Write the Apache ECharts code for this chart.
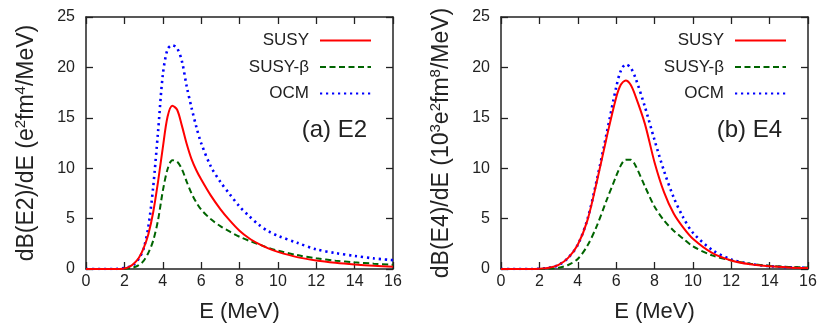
<!DOCTYPE html>
<html>
<head>
<meta charset="utf-8">
<script src="https://cdn.jsdelivr.net/npm/echarts@6/dist/echarts.min.js"></script>
<style>
html,body{margin:0;padding:0;background:#fff;}
#c{width:830px;height:323px;}
</style>
</head>
<body>
<div id="c"></div>
<script>
// ---- data (panel a: E2) ----
var E_a = [0,0.5,1,1.5,2,2.25,2.5,2.75,3,3.25,3.5,3.75,4,4.25,4.5,4.75,5,5.25,5.5,5.75,6,6.5,7,7.5,8,8.5,9,9.5,10,11,12,13,14,15,16];
var susy_a = [0,0,0,0,0.06,0.22,0.55,1.1,2.05,3.45,5.6,8.6,12.0,15.1,16.2,15.8,14.2,12.4,10.9,9.8,8.9,7.3,5.95,4.8,3.8,3.05,2.5,2.05,1.7,1.18,0.85,0.62,0.45,0.32,0.22];
var susyBeta_a = [0,0,0,0,0.02,0.07,0.17,0.38,0.8,1.6,2.8,4.8,7.7,9.9,10.8,10.65,9.9,8.65,7.5,6.6,5.9,4.95,4.25,3.7,3.2,2.8,2.45,2.1,1.82,1.38,1.06,0.83,0.66,0.53,0.42];
var ocm_a = [0,0,0,0,0.1,0.22,0.45,1.0,2.0,4.2,8.1,13.5,19.2,21.8,22.2,21.9,20.6,18.1,16.0,14.1,12.5,10.2,8.65,7.4,6.2,5.25,4.4,3.75,3.3,2.6,1.95,1.58,1.3,1.05,0.88];

// ---- data (panel b: E4) ----
var E_b = [0,0.5,1,1.5,2,2.5,3,3.5,4,4.5,5,5.5,6,6.25,6.5,6.75,7,7.5,8,8.5,9,9.5,10,11,12,13,14,15,16];
var susy_b = [0,0,0,0,0.03,0.12,0.4,1.1,2.4,4.8,8.7,13.0,17.0,18.3,18.7,18.3,17.2,14.4,10.6,7.6,5.5,4.1,3.0,1.6,0.85,0.47,0.27,0.16,0.1];
var susyBeta_b = [0,0,0,0,0.01,0.04,0.12,0.4,1.0,2.3,4.3,6.8,9.2,10.3,10.85,10.85,10.3,8.2,6.2,4.8,3.8,3.0,2.25,1.35,0.85,0.52,0.32,0.21,0.15];
var ocm_b = [0,0,0,0,0.03,0.12,0.4,1.1,2.4,4.9,8.9,13.4,18.0,19.7,20.3,20.0,19.0,16.1,12.8,9.7,7.1,5.1,3.6,1.9,0.95,0.5,0.28,0.17,0.12];

// ---- ticks / labels ----
var xTicks = {min:0, max:16, interval:2};
var yTicks = {min:0, max:25, interval:5};
var seriesNames = ['SUSY','SUSY-\u03b2','OCM'];
var panelLabels = ['(a) E2','(b) E4'];
var yTitles = [
  '{n|dB(E2)/dE (e}{s|2}{n|fm}{s|4}{n|/MeV)}',
  '{n|dB(E4)/dE (10}{s|3}{n|e}{s|2}{n|fm}{s|8}{n|/MeV)}'
];
var xTitle = 'E (MeV)';

var FONT = '"Liberation Sans", Arial, Helvetica, sans-serif';
var AX = '#222';
var styles = [
  {color:'#ff0000', type:'solid', width:2},
  {color:'#006400', type:[6,3.5], width:2},
  {color:'#0000ff', type:[2.2,3.8], width:2.6}
];

function pairs(xs, ys){ return xs.map(function(x,i){ return [x, ys[i]]; }); }

var gridLefts = [86, 501];
var grids = [], xAxes = [], yAxes = [], series = [], legends = [], graphics = [];
var panelData = [[susy_a, susyBeta_a, ocm_a],[susy_b, susyBeta_b, ocm_b]];
var panelX = [E_a, E_b];

for (var p=0; p<2; p++){
  grids.push({left:gridLefts[p], top:17, width:307, height:252, containLabel:false, outerBoundsMode:'none'});
  var common = {
    type:'value', gridIndex:p,
    axisLine:{show:true, onZero:false, lineStyle:{color:AX, width:1.5}},
    axisTick:{show:true, inside:true, length:7, lineStyle:{color:AX, width:1.3}},
    splitLine:{show:false}
  };
  xAxes.push(Object.assign({}, common, {
    min:xTicks.min, max:xTicks.max, interval:xTicks.interval, position:'bottom',
    axisLabel:{margin:5, fontSize:16, color:AX, fontFamily:FONT},
    name:xTitle, nameLocation:'middle', nameGap:32,
    nameTextStyle:{fontSize:22, color:AX, fontFamily:FONT}
  }));
  xAxes.push(Object.assign({}, common, {
    min:xTicks.min, max:xTicks.max, interval:xTicks.interval, position:'top',
    axisLabel:{show:false}
  }));
  yAxes.push(Object.assign({}, common, {
    min:yTicks.min, max:yTicks.max, interval:yTicks.interval, position:'left',
    axisLabel:{margin:11, fontSize:16, color:AX, fontFamily:FONT},
    name:yTitles[p], nameLocation:'middle', nameGap:46, nameRotate:90,
    nameTextStyle:{color:AX, fontFamily:FONT, fontSize:23,
      rich:{
        n:{fontSize:23, lineHeight:27, color:AX, fontFamily:FONT},
        s:{fontSize:15, lineHeight:15, color:AX, fontFamily:FONT, verticalAlign:'top'}
      }}
  }));
  yAxes.push(Object.assign({}, common, {
    min:yTicks.min, max:yTicks.max, interval:yTicks.interval, position:'right',
    axisLabel:{show:false}
  }));
  for (var s=0; s<3; s++){
    series.push({
      type:'line', name:seriesNames[s], xAxisIndex:2*p, yAxisIndex:2*p,
      data:pairs(panelX[p], panelData[p][s]),
      smooth:0.3, symbol:'none', showSymbol:false,
      lineStyle:{color:styles[s].color, type:styles[s].type, width:styles[s].width},
      itemStyle:{color:styles[s].color},
      z: 3 - s,
      animation:false
    });
  }
  legends.push({
    data:seriesNames, orient:'vertical', align:'right', padding:0,
    right: 830 - (gridLefts[p] + 286), top:32,
    itemWidth:51, itemHeight:14, itemGap:9.5, selectedMode:false,
    itemStyle:{opacity:0, borderWidth:0},
    textStyle:{fontSize:17, color:AX, fontFamily:FONT, width:80, align:'right', padding:[0,6,0,0], lineHeight:17}
  });
  graphics.push({
    type:'text', x:gridLefts[p] + 281, y:130,
    style:{text:panelLabels[p], fontSize:24, fill:AX, fontFamily:FONT, align:'right', verticalAlign:'middle'}
  });
}

var chart = echarts.init(document.getElementById('c'), null, {renderer:'canvas'});
chart.setOption({
  animation:false,
  backgroundColor:'#fff',
  grid:grids, xAxis:xAxes, yAxis:yAxes, series:series, legend:legends, graphic:graphics
});
</script>
</body>
</html>
